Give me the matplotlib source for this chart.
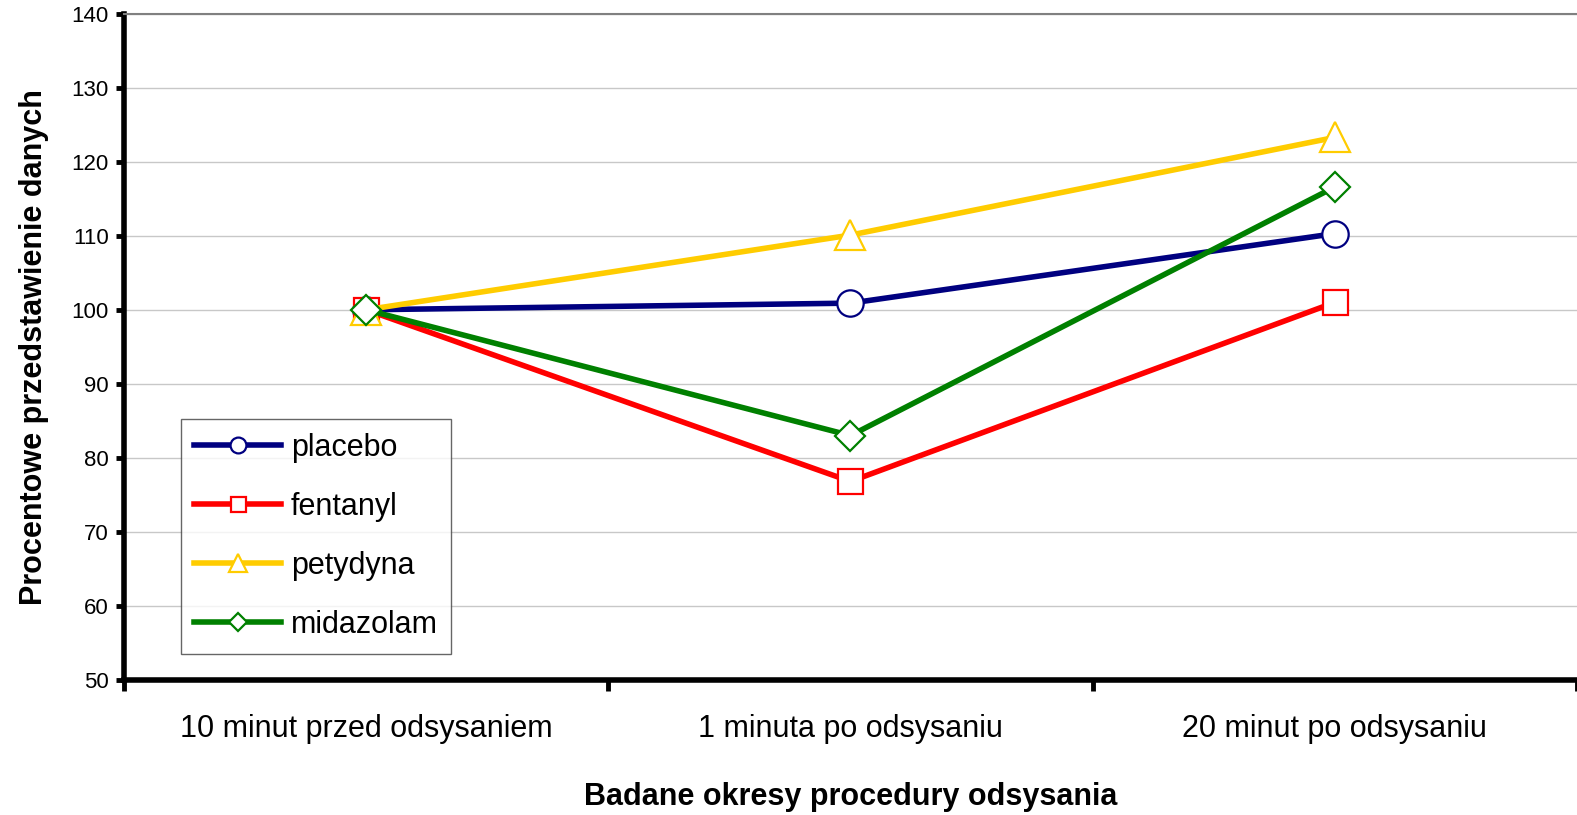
import matplotlib
matplotlib.use("Agg")
import matplotlib.pyplot as plt

plt.rcParams['font.family'] = ['Liberation Sans', 'DejaVu Sans']

# dane
okresy = ["10 minut przed odsysaniem", "1 minuta po odsysaniu", "20 minut po odsysaniu"]
placebo = [100.0, 100.9, 110.3]
fentanyl = [100.0, 76.8, 101.0]
petydyna = [100.0, 110.1, 123.3]
midazolam = [100.0, 83.0, 116.6]
y_ticks = [50, 60, 70, 80, 90, 100, 110, 120, 130, 140]

fig = plt.figure(figsize=(15.77, 8.15), dpi=100)
ax = fig.add_axes([0.0786, 0.166, 0.9214, 0.817])

x = list(range(len(okresy)))
serie = [
	("placebo", placebo, "#000080", "o", 19),
	("fentanyl", fentanyl, "#ff0000", "s", 18),
	("petydyna", petydyna, "#ffcc00", "^", 21),
	("midazolam", midazolam, "#008000", "D", 15),
]
for name, vals, col, mk, ms in serie:
	ax.plot(x, vals, color=col, lw=4, marker=mk, markersize=ms,
		markerfacecolor="white", markeredgecolor=col, markeredgewidth=1.6,
		label=name, zorder=3)

ax.set_ylim(50, 140)
ax.set_xlim(-0.5, 2.48)
ax.set_yticks(y_ticks)
ax.set_yticklabels([str(v) for v in y_ticks], fontsize=16)
ax.yaxis.grid(True, color="#c8c8c8", lw=1)
ax.set_axisbelow(True)

# kategorie w srodku, kreski na granicach
ax.set_xticks(x)
ax.set_xticklabels(okresy, fontsize=22)
ax.tick_params(axis="x", which="major", length=0, pad=25)
ax.set_xticks([-0.5, 0.5, 1.5, 2.5], minor=True)
ax.tick_params(axis="x", which="minor", length=8, width=3.5, direction="out")
ax.tick_params(axis="y", length=6, width=3.5, direction="out", pad=5)

ax.spines["right"].set_visible(False)
ax.spines["top"].set_color("#808080")
ax.spines["top"].set_linewidth(1.5)
ax.spines["left"].set_linewidth(4)
ax.spines["bottom"].set_linewidth(4)

ax.set_xlabel("Badane okresy procedury odsysania", fontsize=22, fontweight="bold", labelpad=27)
ax.set_ylabel("Procentowe przedstawienie danych", fontsize=22, fontweight="bold", labelpad=16)

leg = ax.legend(loc="lower left", bbox_to_anchor=(0.039, 0.039), borderaxespad=0,
	fontsize=22, frameon=True, fancybox=False, edgecolor="#404040", handlelength=2.85,
	labelspacing=0.95, borderpad=0.45, handletextpad=0.3)
leg.get_frame().set_linewidth(1)
for ln in leg.get_lines():
	ln.set_markersize(ln.get_markersize() * 0.6)

fig.savefig("out.png", dpi=100)
